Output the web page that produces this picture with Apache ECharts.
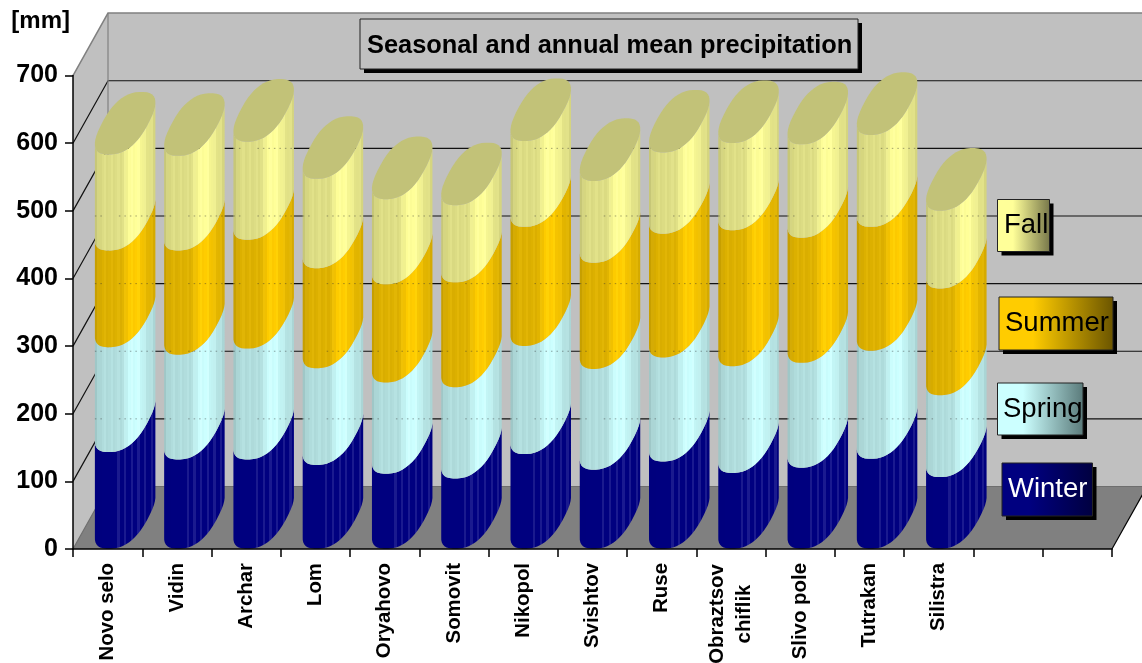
<!DOCTYPE html>
<html><head><meta charset="utf-8">
<style>html,body{margin:0;padding:0;background:#fff}#c{width:1142px;height:663px}</style>
<script src="https://cdn.jsdelivr.net/npm/echarts@6/dist/echarts.min.js"></script>
</head><body><div id="c"></div>
<script>
var categories = ['Novo selo','Vidin','Archar','Lom','Oryahovo','Somovit','Nikopol','Svishtov','Ruse','Obraztsov\nchiflik','Slivo pole','Tutrakan','Silistra','',''];
var winter = [143,132,132,124,111,104,140,117,129,112,120,133,106];
var spring = [155,155,164,143,135,135,160,149,154,158,155,160,121];
var summer = [143,154,161,148,145,155,176,157,183,201,185,183,158];
var fall   = [142,140,145,132,126,114,127,121,120,129,138,136,115];
var yTicks = [0,100,200,300,400,500,600,700];
var seasons = ['Winter','Spring','Summer','Fall'];
var seasonValues = [winter,spring,summer,fall];
var baseColors = [[0,0,128],[204,255,255],[255,204,0],[255,255,153]];
var FONT = '"Liberation Sans", Arial, sans-serif';
var DEPTH_X = 35, DEPTH_Y = 62.5;
var RU = 23.4, DX = 16.4, DY = 31.5;

function chaikin(p, n){
  for (var k=0;k<n;k++){
    var q=[];
    for (var i=0;i<p.length;i++){
      var a=p[i], b=p[(i+1)%p.length];
      q.push([a[0]*.75+b[0]*.25,a[1]*.75+b[1]*.25]);
      q.push([a[0]*.25+b[0]*.75,a[1]*.25+b[1]*.75]);
    }
    p=q;
  }
  return p;
}
function spow(v,e){ return (v<0?-1:1)*Math.pow(Math.abs(v),e); }
var ring = (function(){
  var p=[], e=.8;
  for (var k=0;k<24;k++){
    var t=(-180+15*k)*Math.PI/180;
    var c=spow(Math.cos(t),e), s=spow(Math.sin(t),e);
    p.push([RU*c+DX*s, -DY*s]);
  }
  return chaikin(p,1);
})();
var lowerArc = (function(){
  var li=0, ri=0;
  ring.forEach(function(p,i){ if(p[0]<ring[li][0]) li=i; if(p[0]>ring[ri][0]) ri=i; });
  var out=[], i=li;
  while(true){ out.push(ring[i]); if(i===ri) break; i=(i+1)%ring.length; }
  return out;
})();
var arcMinX = ring.reduce(function(m,p){return Math.min(m,p[0]);},0);
var arcMaxX = ring.reduce(function(m,p){return Math.max(m,p[0]);},0);

function shadeStops(base, idx){
  var n=27, stops=[];
  var xs=[0,.1,.45,.58,.72,.85,1], ms=[.76,.86,.87,1,1,.91,.84];
  for (var i=0;i<n;i++){
    var f=(i+.5)/n, j=0;
    while(j<xs.length-2 && f>xs[j+1]) j++;
    var m=ms[j]+(ms[j+1]-ms[j])*(f-xs[j])/(xs[j+1]-xs[j]);
    var d;
    if(idx===0){ d = (i%3===1 && f>.3) ? 26 : 0; m = .92+.08*m; }
    else d = (i%3===1) ? 5 : (i%3===2 ? -3 : 0);
    var c = base.map(function(v){ return Math.max(0,Math.min(255,Math.round(v*m+d))); });
    if(idx===0) c[2]=Math.min(255,Math.round(base[2]*m+d*.6));
    var col='rgb('+c.join(',')+')';
    stops.push({offset:i/n,color:col});
    stops.push({offset:(i+1)/n,color:col});
  }
  return stops;
}

function seasonSeries(idx){
  var vals = seasonValues[idx];
  var data = vals.map(function(v,i){
    var b=0; for(var s=0;s<idx;s++) b+=seasonValues[s][i];
    return [i,b,b+v];
  });
  var stops = shadeStops(baseColors[idx], idx);
  return {
    type:'custom', name:seasons[idx], z:3, data:data,
    encode:{x:0,y:[1,2]},
    renderItem:function(params,api){
      var lo=api.coord([api.value(0),api.value(1)]);
      var hi=api.coord([api.value(0),api.value(2)]);
      var cx=lo[0]+DEPTH_X/2, yl=lo[1]-DY, yh=hi[1]-DY;
      var pts=[];
      lowerArc.forEach(function(p){ pts.push([cx+p[0],yh+p[1]]); });
      lowerArc.slice().reverse().forEach(function(p){ pts.push([cx+p[0],yl+p[1]]); });
      var kids=[{type:'polygon',shape:{points:pts},style:{
        fill:{type:'linear',x:0,y:0,x2:1,y2:0,colorStops:stops}}}];
      if(idx===3){
        kids.push({type:'polygon',shape:{points:ring.map(function(p){return [cx+p[0],yh+p[1]];})},
          style:{fill:'#C2C278'}});
      }
      return {type:'group',children:kids};
    }
  };
}

var wallSeries = {
  type:'custom', name:'walls', z:1, silent:true, data:[[0,0]], encode:{x:0,y:1},
  renderItem:function(params,api){
    var cs=params.coordSys, L=cs.x, R=cs.x+cs.width;
    var y0=api.coord([0,0])[1], yT=api.coord([0,700])[1];
    var dx=DEPTH_X, dy=DEPTH_Y, kids=[];
    kids.push({type:'polygon',shape:{points:[[L+dx,yT-dy],[R+dx,yT-dy],[R+dx,y0-dy],[L+dx,y0-dy]]},style:{fill:'#C0C0C0'}});
    kids.push({type:'polygon',shape:{points:[[L,yT],[L+dx,yT-dy],[L+dx,y0-dy],[L,y0]]},style:{fill:'#C0C0C0'}});
    kids.push({type:'polygon',shape:{points:[[L,y0],[L+dx,y0-dy],[R+dx,y0-dy],[R,y0]]},style:{fill:'#808080'}});
    yTicks.forEach(function(t){
      var y=api.coord([0,t])[1];
      var col = t===700 ? '#808080' : (t===0 ? '#6e6e6e' : '#111');
      var w = t===700 ? 1.5 : 1.2;
      kids.push({type:'polyline',shape:{points:[[L,y],[L+dx,y-dy],[R+dx,y-dy]]},style:{fill:null,stroke:col,lineWidth:w}});
    });
    kids.push({type:'line',shape:{x1:L+dx,y1:yT-dy,x2:L+dx,y2:y0-dy},style:{stroke:'#808080',lineWidth:1.2}});
    kids.push({type:'line',shape:{x1:R,y1:y0,x2:R+dx,y2:y0-dy},style:{stroke:'#000',lineWidth:1.2}});
    return {type:'group',children:kids};
  }
};

// faint dotted gridlines that show through the cylinders
var ghostSeries = {
  type:'custom', name:'gridGhost', z:4, silent:true,
  data:winter.map(function(v,i){ return [i, v+spring[i]+summer[i]+fall[i]]; }),
  encode:{x:0,y:1},
  renderItem:function(params,api){
    var c=api.coord([api.value(0),0]), top=api.coord([api.value(0),api.value(1)])[1];
    var cx=c[0]+DEPTH_X/2, l=cx+arcMinX, r=cx+arcMaxX, kids=[];
    yTicks.forEach(function(t){
      if(t===0||t===700) return;
      var y=api.coord([0,t])[1]-DEPTH_Y;
      if(y<=top+2) return;
      [[l,l+8],[l+24,r]].forEach(function(s){
        kids.push({type:'line',shape:{x1:s[0],y1:y,x2:s[1],y2:y},
          style:{stroke:'rgba(50,50,50,.45)',lineWidth:1,lineDash:[1.5,4]}});
      });
    });
    return {type:'group',children:kids};
  }
};

function box(x,y,w,h,fill,z){
  return [
    {type:'rect',z:z,shape:{x:x+4,y:y+4,width:w,height:h},style:{fill:'#000'}},
    {type:'rect',z:z+1,shape:{x:x,y:y,width:w,height:h},style:{fill:fill,stroke:'#222',lineWidth:1}}
  ];
}
function legendBox(name,x,y,w,h,c0,c1,tc,tx){
  return box(x,y,w,h,{type:'linear',x:0,y:0,x2:1,y2:0,colorStops:[{offset:0,color:c0},{offset:.3,color:c0},{offset:1,color:c1}]},30).concat([
    {type:'text',z:32,x:tx,y:y+h/2,style:{text:name,font:'27.5px '+FONT,fill:tc,align:'left',verticalAlign:'middle'}}
  ]);
}

var chart = echarts.init(document.getElementById('c'),null,{renderer:'canvas'});
chart.setOption({
  animation:false,
  backgroundColor:'#fff',
  title:{
    text:'Seasonal and annual mean precipitation', left:367, top:32, padding:0,
    textStyle:{fontFamily:FONT,fontWeight:'bold',fontSize:25.4,color:'#000',lineHeight:28}, z:40
  },
  grid:{left:73,right:30,top:75.6,bottom:114,containLabel:false,outerBoundsMode:'none'},
  xAxis:{
    type:'category',data:categories,boundaryGap:true,z:10,
    axisLine:{show:true,lineStyle:{color:'#000',width:1.5}},
    axisTick:{show:true,length:8,alignWithLabel:false,interval:0,lineStyle:{color:'#000',width:1.5}},
    axisLabel:{
      interval:0,rotate:90,margin:14,color:'#000',fontFamily:FONT,fontWeight:'bold',fontSize:20.4,lineHeight:27,
      hideOverlap:false,
      formatter:function(v){
        return v.indexOf('\n')>=0 ? v.split('\n').map(function(s){return '{c|'+s+'}';}).join('\n') : v;
      },
      rich:{c:{width:102,align:'center',fontFamily:FONT,fontWeight:'bold',fontSize:20.4,lineHeight:27,color:'#000'}}
    },
    splitLine:{show:false}
  },
  yAxis:{
    type:'value',min:0,max:700,interval:100,z:10,
    name:'[mm]',nameLocation:'end',nameGap:42,
    nameTextStyle:{fontFamily:FONT,fontWeight:'bold',fontSize:24,color:'#000',align:'right',padding:[0,3,0,0]},
    axisLine:{show:true,lineStyle:{color:'#000',width:1.5}},
    axisTick:{show:true,length:8,lineStyle:{color:'#000',width:1.5}},
    axisLabel:{margin:15,color:'#000',fontFamily:FONT,fontWeight:'bold',fontSize:25},
    splitLine:{show:false}
  },
  series:[wallSeries].concat([0,1,2,3].map(seasonSeries),[ghostSeries]),
  graphic:{elements:[].concat(
    box(360,19,498,50,'#C0C0C0',20),
    legendBox('Fall',997.5,199.5,52,52,'#FFFF99','#77774a','#000',1004),
    legendBox('Summer',999,297,114,53,'#FFCC00','#6b5500','#000',1005),
    legendBox('Spring',997.5,383,85.5,52,'#CCFFFF','#5a7a7a','#000',1003),
    legendBox('Winter',1002,463,90.5,53,'#000080','#000040','#fff',1008)
  )}
});
</script></body></html>
